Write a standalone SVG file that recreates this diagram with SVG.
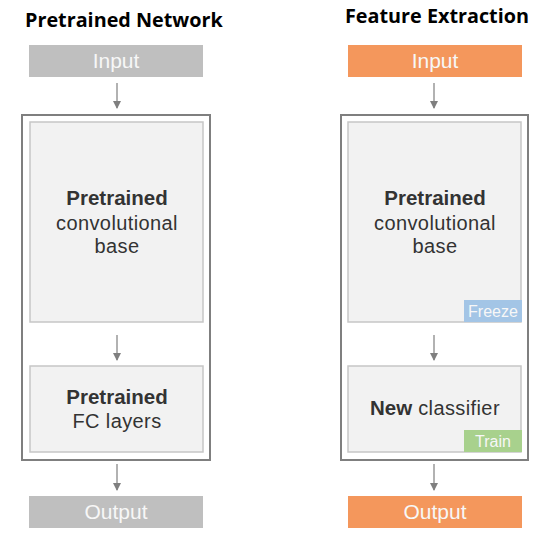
<svg xmlns="http://www.w3.org/2000/svg" width="557" height="543" viewBox="0 0 557 543">
<style>
.title{font-family:"Open Sans","Liberation Sans",sans-serif;font-weight:700;font-size:19.8px;fill:#000}
.io{font-family:"Liberation Sans",Arial,sans-serif;font-size:21px;fill:#f7f7f7;text-anchor:middle}
.gray{fill:#bfbfbf}
.orange{fill:#f4975c}
.outer{fill:#fff;stroke:#7f7f7f;stroke-width:2}
.inner{fill:#f2f2f2;stroke:#c6c6c6;stroke-width:1.5}
.b{font-family:"Liberation Sans",Arial,sans-serif;font-size:20.5px;font-weight:700;fill:#333}
.r{font-family:"Liberation Sans",Arial,sans-serif;font-size:20px;fill:#333;letter-spacing:0.4px}
.c{text-anchor:middle}
.badge{font-family:"Liberation Sans",Arial,sans-serif;font-size:16px;fill:#f7f7f7;text-anchor:middle}
.conn line{stroke:#7f7f7f;stroke-width:1.2}
</style>
<defs>
<marker id="ah" markerWidth="8" markerHeight="8" refX="7" refY="4" orient="auto" markerUnits="userSpaceOnUse">
<path d="M0,0 L8,4 L0,8 Z" fill="#7f7f7f"/>
</marker>
</defs>
<text class="title" x="25" y="27">Pretrained Network</text>
<text class="title" x="345" y="23">Feature Extraction</text>
<g id="left-outer"><rect class="outer" x="22" y="115" width="188" height="345"/></g>
<g id="right-outer"><rect class="outer" x="341" y="115" width="187" height="345"/></g>
<g id="left-input"><rect class="gray" x="29" y="45" width="174" height="32"/><text class="io" x="116" y="68">Input</text></g>
<g id="right-input"><rect class="orange" x="348" y="45" width="174" height="32"/><text class="io" x="435" y="68">Input</text></g>
<g id="left-conv"><rect class="inner" x="30" y="122" width="173" height="200"/>
<text class="b c" x="117" y="205">Pretrained</text>
<text class="r c" x="117" y="230">convolutional</text>
<text class="r c" x="117" y="253">base</text></g>
<g id="right-conv"><rect class="inner" x="348" y="122" width="173" height="200"/>
<text class="b c" x="435" y="205">Pretrained</text>
<text class="r c" x="435" y="230">convolutional</text>
<text class="r c" x="435" y="253">base</text>
<rect x="464" y="300" width="58" height="22" fill="#a3c5e6"/>
<text class="badge" x="493" y="316.5">Freeze</text></g>
<g id="left-fc"><rect class="inner" x="30" y="366" width="173" height="86"/>
<text class="b c" x="117" y="404">Pretrained</text>
<text class="r c" x="117" y="428">FC layers</text></g>
<g id="right-cls"><rect class="inner" x="348" y="366" width="173" height="86"/>
<text class="c" x="435" y="415"><tspan class="b">New</tspan><tspan class="r"> classifier</tspan></text>
<rect x="464" y="430" width="58" height="22" fill="#a8d18d"/>
<text class="badge" x="493" y="447">Train</text></g>
<g id="left-output"><rect class="gray" x="29" y="496" width="174" height="32"/><text class="io" x="116" y="519">Output</text></g>
<g id="right-output"><rect class="orange" x="348" y="496" width="174" height="32"/><text class="io" x="435" y="519">Output</text></g>
<g class="conn">
<line x1="117" y1="83" x2="117" y2="108" marker-end="url(#ah)"/>
<line x1="117" y1="335" x2="117" y2="360" marker-end="url(#ah)"/>
<line x1="117" y1="464" x2="117" y2="490" marker-end="url(#ah)"/>
<line x1="434" y1="83" x2="434" y2="108" marker-end="url(#ah)"/>
<line x1="434" y1="335" x2="434" y2="360" marker-end="url(#ah)"/>
<line x1="434" y1="464" x2="434" y2="490" marker-end="url(#ah)"/>
</g>
</svg>
